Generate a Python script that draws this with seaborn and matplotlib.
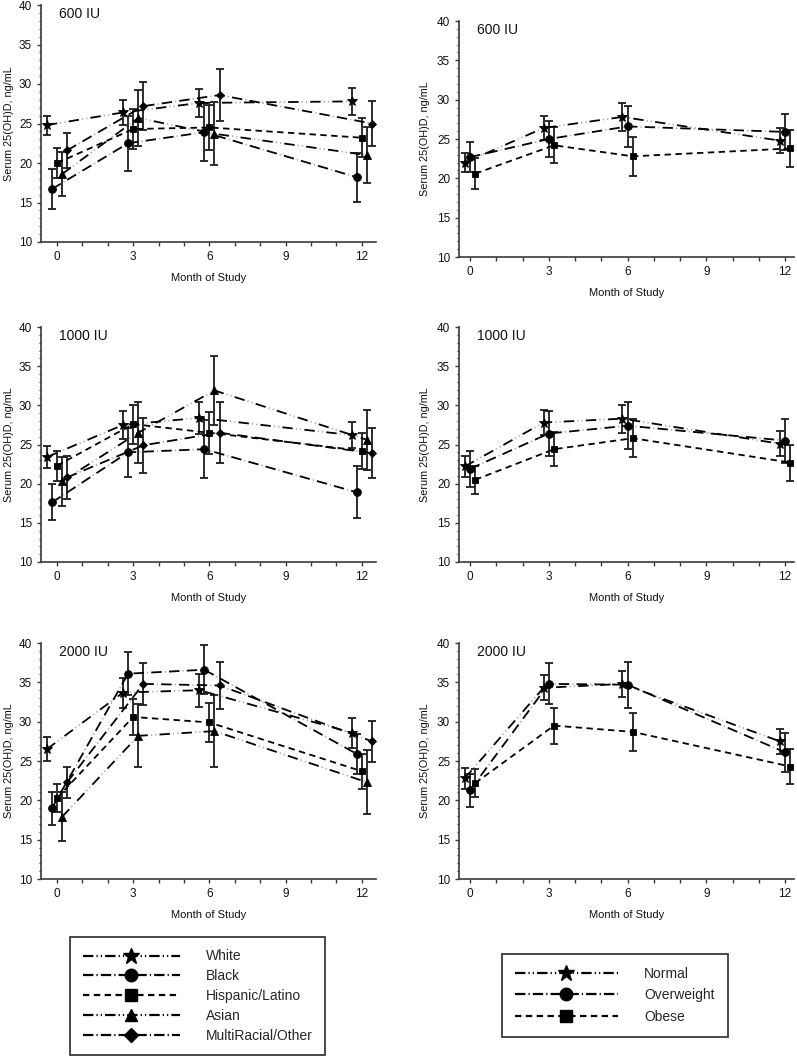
import matplotlib
matplotlib.use("Agg")
import matplotlib.pyplot as plt
import seaborn as sns
import pandas as pd
from matplotlib.lines import Line2D
from matplotlib.ticker import MultipleLocator, FixedLocator

# ---------------- data ----------------
months = [0, 3, 6, 12]
doses = ["600 IU", "1000 IU", "2000 IU"]
race_groups = ["White", "Black", "Hispanic/Latino", "Asian", "MultiRacial/Other"]
bmi_groups = ["Normal", "Overweight", "Obese"]
x_ticks = [0, 3, 6, 9, 12]
y_ticks = [10, 15, 20, 25, 30, 35, 40]

# race, 600 IU (mean, error)
white_600 = [24.8, 26.4, 27.6, 27.8]
white_600_err = [1.2, 1.6, 1.8, 1.7]
black_600 = [16.7, 22.5, 23.9, 18.2]
black_600_err = [2.5, 3.5, 3.7, 3.1]
hisp_600 = [20.0, 24.3, 24.5, 23.2]
hisp_600_err = [1.9, 2.5, 2.8, 2.5]
asian_600 = [18.6, 25.7, 23.7, 21.0]
asian_600_err = [2.8, 3.6, 4.0, 3.5]
multi_600 = [21.6, 27.2, 28.6, 25.0]
multi_600_err = [2.2, 3.0, 3.3, 2.9]

# race, 1000 IU
white_1000 = [23.4, 27.5, 28.4, 26.2]
white_1000_err = [1.4, 1.8, 2.0, 1.7]
black_1000 = [17.6, 24.0, 24.4, 18.9]
black_1000_err = [2.3, 3.1, 3.7, 3.3]
hisp_1000 = [22.3, 27.6, 26.5, 24.2]
hisp_1000_err = [1.9, 2.5, 2.7, 2.3]
asian_1000 = [20.3, 26.5, 31.9, 25.6]
asian_1000_err = [3.1, 3.9, 4.4, 3.8]
multi_1000 = [20.8, 24.9, 26.5, 23.9]
multi_1000_err = [2.7, 3.5, 3.9, 3.2]

# race, 2000 IU
white_2000 = [26.5, 33.7, 34.0, 28.6]
white_2000_err = [1.5, 1.9, 2.1, 1.9]
black_2000 = [19.0, 36.1, 36.6, 25.9]
black_2000_err = [2.1, 2.7, 3.1, 2.5]
hisp_2000 = [20.3, 30.6, 29.9, 23.7]
hisp_2000_err = [1.8, 2.3, 2.5, 2.2]
asian_2000 = [17.9, 28.2, 28.8, 22.3]
asian_2000_err = [3.1, 4.0, 4.6, 4.1]
multi_2000 = [22.3, 34.8, 34.6, 27.5]
multi_2000_err = [2.0, 2.7, 3.0, 2.6]

# BMI, 600 IU
normal_600 = [22.0, 26.4, 27.8, 24.8]
normal_600_err = [1.2, 1.5, 1.8, 1.6]
over_600 = [22.7, 25.0, 26.6, 25.9]
over_600_err = [1.9, 2.3, 2.6, 2.3]
obese_600 = [20.6, 24.2, 22.8, 23.8]
obese_600_err = [2.0, 2.3, 2.5, 2.3]

# BMI, 1000 IU
normal_1000 = [22.2, 27.8, 28.3, 25.1]
normal_1000_err = [1.3, 1.6, 1.8, 1.6]
over_1000 = [21.9, 26.4, 27.4, 25.5]
over_1000_err = [2.3, 2.9, 3.0, 2.8]
obese_1000 = [20.5, 24.4, 25.8, 22.7]
obese_1000_err = [1.8, 2.2, 2.4, 2.3]

# BMI, 2000 IU
normal_2000 = [22.8, 34.3, 34.8, 27.5]
normal_2000_err = [1.3, 1.6, 1.7, 1.6]
over_2000 = [21.3, 34.8, 34.7, 26.1]
over_2000_err = [2.1, 2.6, 2.9, 2.5]
obese_2000 = [22.2, 29.5, 28.7, 24.3]
obese_2000_err = [1.8, 2.3, 2.4, 2.2]

race_data = {
    "600 IU": [(white_600, white_600_err), (black_600, black_600_err), (hisp_600, hisp_600_err),
               (asian_600, asian_600_err), (multi_600, multi_600_err)],
    "1000 IU": [(white_1000, white_1000_err), (black_1000, black_1000_err), (hisp_1000, hisp_1000_err),
                (asian_1000, asian_1000_err), (multi_1000, multi_1000_err)],
    "2000 IU": [(white_2000, white_2000_err), (black_2000, black_2000_err), (hisp_2000, hisp_2000_err),
                (asian_2000, asian_2000_err), (multi_2000, multi_2000_err)],
}
bmi_data = {
    "600 IU": [(normal_600, normal_600_err), (over_600, over_600_err), (obese_600, obese_600_err)],
    "1000 IU": [(normal_1000, normal_1000_err), (over_1000, over_1000_err), (obese_1000, obese_1000_err)],
    "2000 IU": [(normal_2000, normal_2000_err), (over_2000, over_2000_err), (obese_2000, obese_2000_err)],
}

# ---------------- style ----------------
sns.set_theme(style="ticks")
plt.rcParams["font.family"] = ["Liberation Sans", "DejaVu Sans"]
plt.rcParams["lines.scale_dashes"] = False

DDD = (7.5, 2.2, 0.9, 2.2, 0.9, 2.2)   # dash-dot-dot
DD = (7.5, 2.2, 0.9, 2.2)              # dash-dot
DSH = (4.6, 3.2)                       # dashed

race_styles = [(DDD, "*", 7.5), (DD, "o", 5.6), (DSH, "s", 5.0), (DDD, "^", 5.8), (DD, "D", 4.4)]
race_offsets = [-0.4, -0.2, 0.0, 0.2, 0.4]
race_leg_ms = [12, 9, 8, 9, 7.5]
bmi_styles = [(DDD, "*", 7.5), (DD, "o", 5.6), (DSH, "s", 5.0)]
bmi_offsets = [-0.2, 0.0, 0.2]
bmi_leg_ms = [12, 9, 8]

AX_COL = "#3a3a3a"
W, H = 797, 1058
fig = plt.figure(figsize=(W / 100, H / 100), dpi=100)


def add_ax(x0, x1, y0, y1):
    return fig.add_axes([x0 / W, 1 - y1 / H, (x1 - x0) / W, (y1 - y0) / H])


def draw_series(ax, xs, ys, errs, pattern, marker, ms):
    period = sum(pattern)
    D = pattern[0]
    if len(pattern) > 2:
        g = pattern[1]
        dots = list(pattern[2:-1])
        dots.append(pattern[-1] + D + g)
        ax.plot(xs, ys, color="#a8a8a8", lw=1.2,
                linestyle=(period - (D + g), tuple(dots)), zorder=2)
        black_ls = (0, (D, period - D))
    else:
        black_ls = (0, pattern)
    ax.errorbar(xs, ys, yerr=errs, fmt="none", ecolor="#1c1c1c", elinewidth=1.3,
                capsize=2.6, capthick=1.3, zorder=3)
    sns.lineplot(x=xs, y=ys, ax=ax, color="black", linestyle=black_ls, linewidth=1.3,
                 marker=marker, markersize=ms, markeredgecolor="black",
                 markeredgewidth=0.6, sort=False, legend=False, zorder=4)


def style_ax(ax, xlim, dose):
    ax.set_xlim(*xlim)
    ax.set_ylim(10, 40)
    ax.xaxis.set_major_locator(FixedLocator(x_ticks))
    ax.xaxis.set_minor_locator(MultipleLocator(1))
    ax.yaxis.set_major_locator(FixedLocator(y_ticks))
    ax.yaxis.set_minor_locator(MultipleLocator(1))
    ax.tick_params(axis="both", which="major", direction="out", length=3.2, width=1.0,
                   color=AX_COL, labelsize=8.5, labelcolor="#111111", pad=3.2)
    ax.tick_params(axis="x", which="minor", direction="out", length=3.2, width=1.0, color=AX_COL)
    ax.tick_params(axis="y", which="minor", direction="out", length=1.8, width=0.8, color=AX_COL)
    for s in ["top", "right"]:
        ax.spines[s].set_visible(False)
    for s in ["left", "bottom"]:
        ax.spines[s].set_color(AX_COL)
        ax.spines[s].set_linewidth(1.2)
    ax.set_xlabel("Month of Study", fontsize=8, color="#111111")
    ax.set_ylabel("Serum 25(OH)D, ng/mL", fontsize=7.8, color="#111111")
    ax.xaxis.set_label_coords(0.5, -0.13)
    ax.text(0.054, 0.962, dose, transform=ax.transAxes, fontsize=10, va="center",
            ha="left", color="#111111")
    ax.set_facecolor("white")


left_rects = [(41, 376, 5, 242), (41, 376, 327, 562), (41, 376, 643, 879)]
right_rects = [(459, 794, 21, 257), (459, 794, 327, 562), (459, 794, 643, 879)]

for i, dose in enumerate(doses):
    axL = add_ax(*left_rects[i])
    for (vals, errs), (pat, mk, ms), off in zip(race_data[dose], race_styles, race_offsets):
        xs = [m + off for m in months]
        draw_series(axL, xs, vals, errs, pat, mk, ms)
    style_ax(axL, (-0.63, 12.56), dose)
    axL.yaxis.set_label_coords(-0.082, 0.5)

    axR = add_ax(*right_rects[i])
    for (vals, errs), (pat, mk, ms), off in zip(bmi_data[dose], bmi_styles, bmi_offsets):
        xs = [m + off for m in months]
        draw_series(axR, xs, vals, errs, pat, mk, ms)
    style_ax(axR, (-0.42, 12.34), dose)
    axR.yaxis.set_label_coords(-0.088, 0.5)


def leg_handles(styles, sizes):
    hs = []
    for (pat, mk, _), ms in zip(styles, sizes):
        hs.append(Line2D([], [], color="black", lw=1.6, linestyle=(0, pat),
                         marker=mk, markersize=ms, markeredgecolor="black"))
    return hs


legL = fig.legend(leg_handles(race_styles, race_leg_ms), race_groups, loc="upper left",
                  bbox_to_anchor=(70 / W, 1 - 937 / H), borderaxespad=0, fontsize=10,
                  handlelength=7.0, handletextpad=1.9, labelspacing=0.42, borderpad=0.9,
                  numpoints=1, fancybox=False, framealpha=1, edgecolor=AX_COL)
legL.get_frame().set_linewidth(1.3)
legR = fig.legend(leg_handles(bmi_styles, bmi_leg_ms), bmi_groups, loc="upper left",
                  bbox_to_anchor=(502 / W, 1 - 954 / H), borderaxespad=0, fontsize=10,
                  handlelength=7.4, handletextpad=1.9, labelspacing=0.53, borderpad=0.93,
                  numpoints=1, fancybox=False, framealpha=1, edgecolor=AX_COL)
legR.get_frame().set_linewidth(1.3)

fig.savefig("out.png", dpi=100, facecolor="white")
